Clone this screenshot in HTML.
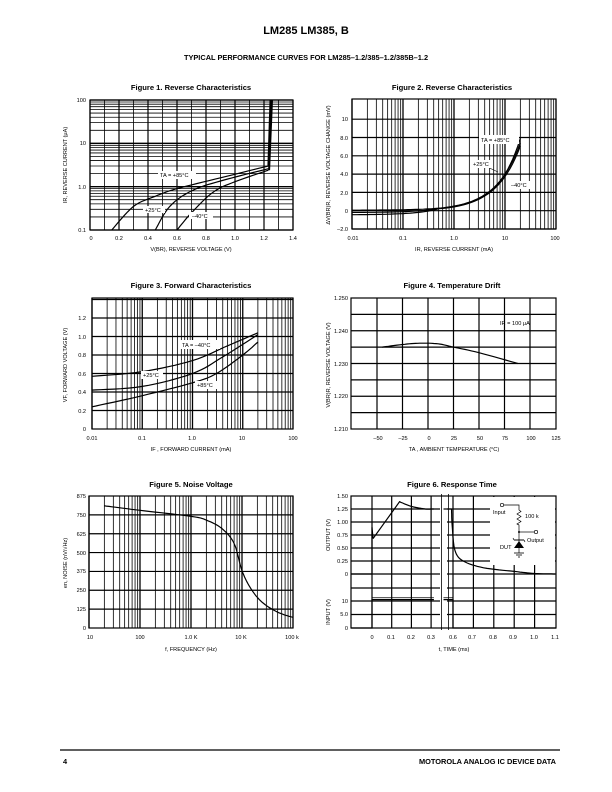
<!DOCTYPE html>
<html><head><meta charset="utf-8"><style>
body{margin:0;background:#fff}
svg{display:block;font-family:"Liberation Sans",Arial,sans-serif}
.t{font-size:5.6px}
.h{font-size:7.6px;font-weight:bold}
</style></head><body>
<svg id="s" width="612" height="792" viewBox="0 0 612 792" xmlns="http://www.w3.org/2000/svg">
<rect width="612" height="792" fill="#fff"/>
<text x="306" y="34" text-anchor="middle" font-size="11" font-weight="bold">LM285 LM385, B</text>
<text x="306" y="60" text-anchor="middle" font-size="7.4" font-weight="bold">TYPICAL PERFORMANCE CURVES FOR LM285–1.2/385–1.2/385B–1.2</text>
<line x1="60" y1="750" x2="560" y2="750" stroke="#000" stroke-width="1.2"/>
<text x="63" y="764" font-size="7.4" font-weight="bold">4</text>
<text x="556" y="764" text-anchor="end" font-size="7.4" font-weight="bold">MOTOROLA ANALOG IC DEVICE DATA</text>
<g id="g"></g>
<g class="t">
<text class="h" x="191" y="90" text-anchor="middle">Figure 1. Reverse Characteristics</text>
<text x="86" y="102" text-anchor="end">100</text><text x="86" y="145" text-anchor="end">10</text><text x="86" y="189" text-anchor="end">1.0</text><text x="86" y="232" text-anchor="end">0.1</text>
<text x="91" y="240" text-anchor="middle">0</text><text x="119" y="240" text-anchor="middle">0.2</text><text x="148" y="240" text-anchor="middle">0.4</text><text x="177" y="240" text-anchor="middle">0.6</text><text x="206" y="240" text-anchor="middle">0.8</text><text x="235" y="240" text-anchor="middle">1.0</text><text x="264" y="240" text-anchor="middle">1.2</text><text x="293" y="240" text-anchor="middle">1.4</text>
<text x="191" y="251" text-anchor="middle">V(BR), REVERSE VOLTAGE (V)</text>
<text transform="translate(67,165) rotate(-90)" text-anchor="middle">IR, REVERSE CURRENT (μA)</text>
<rect x="158" y="171" width="38" height="8" fill="#fff"/><text x="160" y="177">TA = +85°C</text>
<rect x="143" y="206" width="22" height="7" fill="#fff"/><text x="145" y="212">+25°C</text>
<rect x="189" y="212" width="24" height="7" fill="#fff"/><text x="192" y="218">–40°C</text>
<text class="h" x="452" y="90" text-anchor="middle">Figure 2. Reverse Characteristics</text>
<text x="348" y="121" text-anchor="end">10</text><text x="348" y="140" text-anchor="end">8.0</text><text x="348" y="158" text-anchor="end">6.0</text><text x="348" y="176" text-anchor="end">4.0</text><text x="348" y="195" text-anchor="end">2.0</text><text x="348" y="213" text-anchor="end">0</text><text x="348" y="231" text-anchor="end">–2.0</text>
<text x="353" y="240" text-anchor="middle">0.01</text><text x="403" y="240" text-anchor="middle">0.1</text><text x="454" y="240" text-anchor="middle">1.0</text><text x="505" y="240" text-anchor="middle">10</text><text x="555" y="240" text-anchor="middle">100</text>
<text x="454" y="251" text-anchor="middle">IR, REVERSE CURRENT (mA)</text>
<text transform="translate(330,165) rotate(-90)" text-anchor="middle">ΔV(BR)R, REVERSE VOLTAGE CHANGE (mV)</text>
<rect x="479" y="135" width="40" height="9" fill="#fff"/><text x="481" y="142">TA = +85°C</text>
<rect x="471" y="160" width="22" height="8" fill="#fff"/><text x="473" y="166">+25°C</text>
<rect x="509" y="181" width="22" height="8" fill="#fff"/><text x="511" y="187">–40°C</text>
<text class="h" x="191" y="288" text-anchor="middle">Figure 3. Forward Characteristics</text>
<text x="86" y="320" text-anchor="end">1.2</text><text x="86" y="339" text-anchor="end">1.0</text><text x="86" y="357" text-anchor="end">0.8</text><text x="86" y="376" text-anchor="end">0.6</text><text x="86" y="394" text-anchor="end">0.4</text><text x="86" y="413" text-anchor="end">0.2</text><text x="86" y="431" text-anchor="end">0</text>
<text x="92" y="440" text-anchor="middle">0.01</text><text x="142" y="440" text-anchor="middle">0.1</text><text x="192" y="440" text-anchor="middle">1.0</text><text x="242" y="440" text-anchor="middle">10</text><text x="293" y="440" text-anchor="middle">100</text>
<text x="191" y="451" text-anchor="middle">IF , FORWARD CURRENT (mA)</text>
<text transform="translate(67,365) rotate(-90)" text-anchor="middle">VF, FORWARD VOLTAGE (V)</text>
<rect x="180" y="340" width="40" height="9" fill="#fff"/><text x="182" y="347">TA = –40°C</text>
<rect x="141" y="371" width="22" height="8" fill="#fff"/><text x="143" y="377">+25°C</text>
<rect x="195" y="381" width="22" height="8" fill="#fff"/><text x="197" y="387">+85°C</text>
<text class="h" x="452" y="288" text-anchor="middle">Figure 4. Temperature Drift</text>
<text x="348" y="300" text-anchor="end">1.250</text><text x="348" y="333" text-anchor="end">1.240</text><text x="348" y="366" text-anchor="end">1.230</text><text x="348" y="398" text-anchor="end">1.220</text><text x="348" y="431" text-anchor="end">1.210</text>
<text x="378" y="440" text-anchor="middle">–50</text><text x="403" y="440" text-anchor="middle">–25</text><text x="429" y="440" text-anchor="middle">0</text><text x="454" y="440" text-anchor="middle">25</text><text x="480" y="440" text-anchor="middle">50</text><text x="505" y="440" text-anchor="middle">75</text><text x="531" y="440" text-anchor="middle">100</text><text x="556" y="440" text-anchor="middle">125</text>
<text x="454" y="451" text-anchor="middle">TA , AMBIENT TEMPERATURE (°C)</text>
<text transform="translate(330,365) rotate(-90)" text-anchor="middle">V(BR)R, REVERSE VOLTAGE (V)</text>
<text x="500" y="325">IR = 100 μA</text>
<text class="h" x="191" y="487" text-anchor="middle">Figure 5. Noise Voltage</text>
<text x="86" y="498" text-anchor="end">875</text><text x="86" y="517" text-anchor="end">750</text><text x="86" y="536" text-anchor="end">625</text><text x="86" y="555" text-anchor="end">500</text><text x="86" y="573" text-anchor="end">375</text><text x="86" y="592" text-anchor="end">250</text><text x="86" y="611" text-anchor="end">125</text><text x="86" y="630" text-anchor="end">0</text>
<text x="90" y="639" text-anchor="middle">10</text><text x="140" y="639" text-anchor="middle">100</text><text x="191" y="639" text-anchor="middle">1.0 K</text><text x="241" y="639" text-anchor="middle">10 K</text><text x="292" y="639" text-anchor="middle">100 k</text>
<text x="191" y="651" text-anchor="middle">f, FREQUENCY (Hz)</text>
<text transform="translate(67,563) rotate(-90)" text-anchor="middle">en, NOISE (nV/√Hz)</text>
<text class="h" x="452" y="487" text-anchor="middle">Figure 6. Response Time</text>
<text x="348" y="498" text-anchor="end">1.50</text><text x="348" y="511" text-anchor="end">1.25</text><text x="348" y="524" text-anchor="end">1.00</text><text x="348" y="537" text-anchor="end">0.75</text><text x="348" y="550" text-anchor="end">0.50</text><text x="348" y="563" text-anchor="end">0.25</text><text x="348" y="576" text-anchor="end">0</text>
<text x="348" y="603" text-anchor="end">10</text><text x="348" y="616" text-anchor="end">5.0</text><text x="348" y="630" text-anchor="end">0</text>
<text x="372" y="639" text-anchor="middle">0</text><text x="391" y="639" text-anchor="middle">0.1</text><text x="411" y="639" text-anchor="middle">0.2</text><text x="431" y="639" text-anchor="middle">0.3</text><text x="453" y="639" text-anchor="middle">0.6</text><text x="472" y="639" text-anchor="middle">0.7</text><text x="493" y="639" text-anchor="middle">0.8</text><text x="513" y="639" text-anchor="middle">0.9</text><text x="534" y="639" text-anchor="middle">1.0</text><text x="555" y="639" text-anchor="middle">1.1</text>
<text x="454" y="651" text-anchor="middle">t, TIME (ms)</text>
<text transform="translate(330,535) rotate(-90)" text-anchor="middle">OUTPUT (V)</text>
<text transform="translate(330,612) rotate(-90)" text-anchor="middle">INPUT (V)</text>
</g>
</svg>
<script>
var g=document.getElementById('g'),NS='http://www.w3.org/2000/svg';
function el(n,a){var e=document.createElementNS(NS,n);for(var k in a)e.setAttribute(k,a[k]);g.appendChild(e);return e}
function L(x1,y1,x2,y2,w){el('line',{x1:x1,y1:y1,x2:x2,y2:y2,stroke:'#000','stroke-width':w||0.8})}
function P(pts,w){el('polyline',{points:pts.map(p=>p[0].toFixed(1)+','+p[1].toFixed(1)).join(' '),fill:'none',stroke:'#000','stroke-width':w||1.2})}
function logV(x0,x1,dec,y0,y1){var d=(x1-x0)/dec;for(var i=0;i<dec;i++)for(var k=1;k<10;k++){var x=x0+(i+Math.log10(k))*d;L(x,y0,x,y1,k==1?1.3:0.8)}L(x1,y0,x1,y1,1.2)}
function logH(y0,y1,dec,x0,x1){var d=(y0-y1)/dec;for(var i=0;i<dec;i++)for(var k=1;k<10;k++){var y=y0-(i+Math.log10(k))*d;L(x0,y,x1,y,k==1?1.3:0.8)}L(x0,y1,x1,y1,1.2)}
function smooth(pts,n){var o=[];for(var i=0;i<pts.length-1;i++){var p0=pts[Math.max(0,i-1)],p1=pts[i],p2=pts[i+1],p3=pts[Math.min(pts.length-1,i+2)];for(var t=0;t<1;t+=1/n){var t2=t*t,t3=t2*t;o.push([0.5*((2*p1[0])+(-p0[0]+p2[0])*t+(2*p0[0]-5*p1[0]+4*p2[0]-p3[0])*t2+(-p0[0]+3*p1[0]-3*p2[0]+p3[0])*t3),0.5*((2*p1[1])+(-p0[1]+p2[1])*t+(2*p0[1]-5*p1[1]+4*p2[1]-p3[1])*t2+(-p0[1]+3*p1[1]-3*p2[1]+p3[1])*t3)])}}o.push(pts[pts.length-1]);return o}
(function(){var x0=90,x1=293,y0=230,y1=100;
for(var i=0;i<=14;i++){var x=x0+i*(x1-x0)/14;L(x,y1,x,y0,i%2?0.8:1.2)}
logH(y0,y1,3,x0,x1);
var X=v=>x0+v/1.4*(x1-x0),Y=I=>y0-(Math.log10(I)+1)*(y0-y1)/3;
function c(a){return smooth(a.map(p=>[X(p[0]),Y(p[1])]),8)}
P(c([[0.15,0.1],[0.3,0.35],[0.45,0.6],[0.6,0.9],[0.9,1.6],[1.23,3.0]]));
P(c([[0.45,0.1],[0.55,0.35],[0.7,0.8],[0.9,1.35],[1.23,2.6]]));
P(c([[0.6,0.1],[0.7,0.25],[0.85,0.75],[1.0,1.3],[1.23,2.4]]));
P([[X(1.23),Y(3.0)],[X(1.245),Y(100)]],2);P([[X(1.235),Y(2.4)],[X(1.255),Y(100)]],2);
el('rect',{x:x0,y:y1,width:x1-x0,height:y0-y1,fill:'none',stroke:'#000','stroke-width':1.2});})();
(function(){var x0=352,x1=556,y0=229,y1=99;logV(x0,x1,4,y1,y0);
var Y=v=>229-(v+2)*9.15;for(var v=-2;v<=10;v+=2)L(x0,Y(v),x1,Y(v),1.2);
var X=I=>x0+(Math.log10(I)+2)*51;
function c(k,off,e){var a=[];for(var l=-2;l<=Math.log10(20)+1e-9;l+=0.05){var I=Math.pow(10,l);a.push([X(I),Y(off*(1-Math.min(1,I/0.5))+k*Math.pow(I,e))])}a.push([X(20),Y(k*Math.pow(20,e))]);return a}
P(c(0.42,-0.45,0.98));P(c(0.45,-0.2,0.92));P(c(0.50,0.05,0.9));
L(483,165,498,172,0.6);
el('rect',{x:x0,y:y1,width:x1-x0,height:y0-y1,fill:'none',stroke:'#000','stroke-width':1.2});})();
(function(){var x0=92,x1=293,y0=429,y1=298;logV(x0,x1,4,y1,y0);
var Y=v=>y0-v*92.5;for(var v=0.2;v<=1.45;v+=0.2)L(x0,Y(v),x1,Y(v),1.2);
var X=I=>x0+(Math.log10(I)+2)*(x1-x0)/4;
function c(a){return smooth(a.map(p=>[X(p[0]),Y(p[1])]),8)}
P(c([[0.01,0.57],[0.1,0.62],[1,0.74],[5,0.9],[20,1.04]]));
P(c([[0.01,0.42],[0.1,0.46],[1,0.6],[4,0.78],[20,1.02]]));
P(c([[0.01,0.24],[0.1,0.36],[1,0.5],[3,0.6],[10,0.8],[20,0.94]]));
el('rect',{x:x0,y:y1,width:x1-x0,height:y0-y1,fill:'none',stroke:'#000','stroke-width':1.2});})();
(function(){var x0=351,x1=556,y0=429,y1=298;
var X=t=>377+(t+50)*25.5/25;for(var t=-50;t<=100;t+=25)L(X(t),y1,X(t),y0,1.2);
var Y=v=>y0-(v-1.21)/0.04*(y0-y1);for(var v=1.215;v<1.2499;v+=0.005)L(x0,Y(v),x1,Y(v),1.2);
P(smooth([[-45,1.235],[-25,1.2358],[-8,1.2362],[10,1.236],[25,1.235],[50,1.2333],[88,1.23]].map(p=>[X(p[0]),Y(p[1])]),8));
el('rect',{x:x0,y:y1,width:x1-x0,height:y0-y1,fill:'none',stroke:'#000','stroke-width':1.2});})();
(function(){var x0=89,x1=293,y0=628,y1=496;logV(x0,x1,4,y1,y0);
var Y=v=>y0-v*(y0-y1)/875;for(var v=125;v<875;v+=125)L(x0,Y(v),x1,Y(v),1.2);
var X=f=>x0+(Math.log10(f)-1)*(x1-x0)/4;
P(smooth([[20,810],[100,780],[1000,740],[2000,715],[4000,660],[7000,560],[10000,380],[15000,260],[25000,170],[50000,105],[100000,70]].map(p=>[X(p[0]),Y(p[1])]),10));
el('rect',{x:x0,y:y1,width:x1-x0,height:y0-y1,fill:'none',stroke:'#000','stroke-width':1.2});})();
(function(){var x0=351,x1=556,y0=628,y1=496;
function X(t){if(t<=0.3)return 372+t*197;if(t>=0.6)return 453+(t-0.6)*204;return 431+(t-0.3)/0.3*22}
[0,0.1,0.2,0.3,0.6,0.7,0.8,0.9,1.0].forEach(t=>L(X(t),y1,X(t),y0,1.2));
var Y=v=>574-v*52;for(var v=0.25;v<1.5;v+=0.25)L(x0,Y(v),x1,Y(v),1.2);L(x0,574,x1,574,1.2);L(x0,588,x1,588,1.2);
var Yi=v=>628-v*2.7;L(x0,Yi(10),x1,Yi(10),1.2);L(x0,Yi(5),x1,Yi(5),1.2);
el('rect',{x:490,y:497,width:65,height:68,fill:'#fff'});
var bx=440;el('rect',{x:bx,y:y1-2,width:7,height:y0-y1+4,fill:'#fff'});
P([[x0,574],[X(0),574],[X(0),Y(0.9)],[X(0.005),Y(0.68)]],1.2);
P([[X(0.005),Y(0.68)],[X(0.14),Y(1.39)]].concat(smooth([[X(0.14),Y(1.39)],[X(0.2),Y(1.3)],[X(0.27),Y(1.25)],[X(0.3),Y(1.25)]],6)).concat([[X(0.34),Y(1.25)]]),1.2);
P([[X(0.47),Y(1.25)],[X(0.58),Y(1.25)]],1.2);
P(smooth([[X(0.58),Y(1.25)],[X(0.59),Y(0.9)],[X(0.61),Y(0.45)],[X(0.65),Y(0.25)],[X(0.75),Y(0.12)],[X(0.9),Y(0.05)],[X(1.0),Y(0.01)],[X(1.1),Y(0.0)]],8),1.2);
P([[x0,628],[X(0),628],[X(0),Yi(10.5)],[X(0.34),Yi(10.5)]],1.2);
P([[X(0.47),Yi(10.5)],[X(0.6),Yi(10.5)],[X(0.6),628],[x1,628]],1.2);
L(X(0),Yi(11.2),X(0.34),Yi(11.2),0.8);L(X(0.47),Yi(11.2),X(0.6),Yi(11.2),0.8);
var z1='',z2='';for(var y=y1-2;y<=y0+2;y+=4){var o=((y-y1)/4)%2?1.5:-1.5;z1+=(bx+o)+','+y+' ';z2+=(bx+7+o)+','+y+' '}
el('polyline',{points:z1,fill:'none',stroke:'#000','stroke-width':0.8});el('polyline',{points:z2,fill:'none',stroke:'#000','stroke-width':0.8});
el('circle',{cx:502,cy:505,r:1.7,fill:'#fff',stroke:'#000','stroke-width':0.7});
P([[504,505],[519,505],[519,510],[521,511.5],[517,514],[521,516.5],[517,519],[521,521.5],[517,524],[519,525],[519,547]],0.7);
P([[519,532],[534,532]],0.7);el('circle',{cx:536,cy:532,r:1.7,fill:'#fff',stroke:'#000','stroke-width':0.7});
el('circle',{cx:519,cy:532,r:1,fill:'#000'});
el('polygon',{points:'514,548 524,548 519,541',fill:'#000'});P([[514,540],[524,540]],1);P([[514,540],[513,538]],0.7);P([[524,540],[525,542]],0.7);
P([[519,548],[519,553]],0.7);L(514,553,524,553,0.8);L(516,555,522,555,0.8);L(518,557,520,557,0.8);
el('rect',{x:x0,y:y1,width:x1-x0,height:y0-y1,fill:'none',stroke:'#000','stroke-width':1.2});
var tg=document.createElementNS(NS,'g');tg.setAttribute('font-size','5.6');
[['Input',493,514],['100 k',525,518],['Output',527,542],['DUT',500,549]].forEach(function(s){var t=document.createElementNS(NS,'text');t.setAttribute('x',s[1]);t.setAttribute('y',s[2]);t.textContent=s[0];tg.appendChild(t)});g.appendChild(tg);
})();
</script>
</body></html>
